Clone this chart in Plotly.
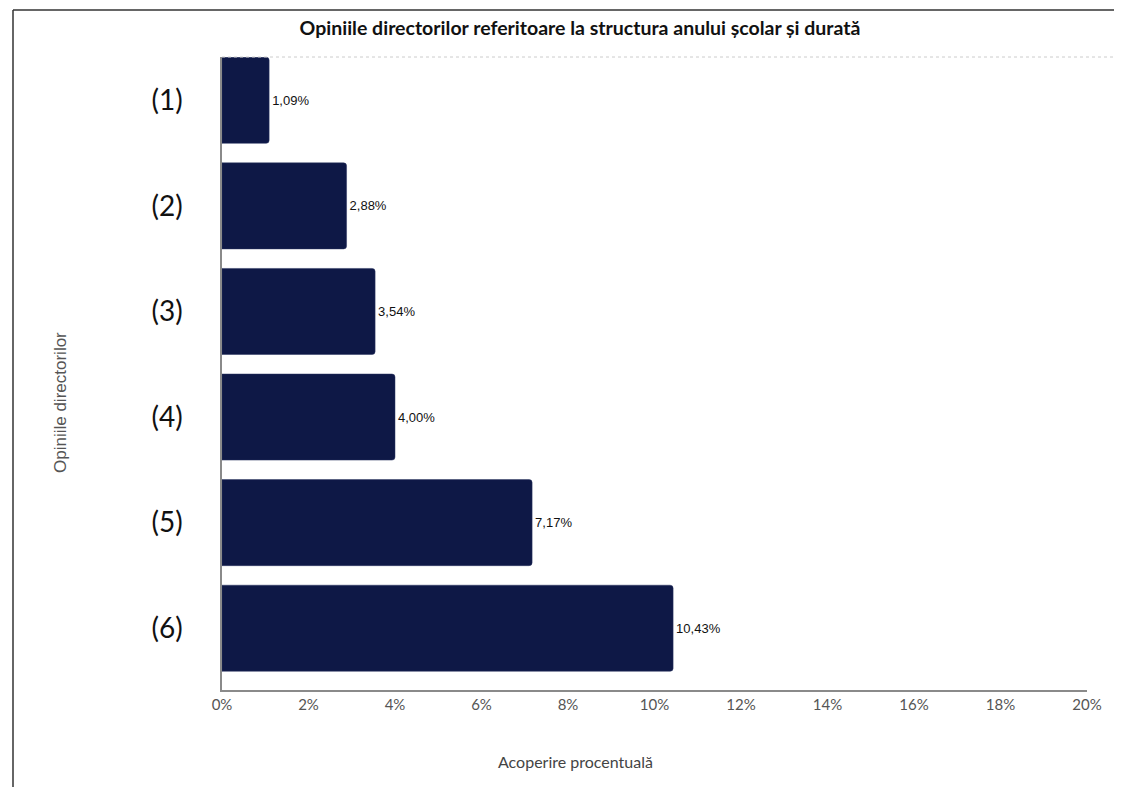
import plotly.graph_objects as go

categories = ["(1)", "(2)", "(3)", "(4)", "(5)", "(6)"]
values = [1.09, 2.88, 3.54, 4.00, 7.17, 10.43]
labels = ["1,09%", "2,88%", "3,54%", "4,00%", "7,17%", "10,43%"]
tick_vals = [0, 2, 4, 6, 8, 10, 12, 14, 16, 18, 20]
tick_text = [f"{v}%" for v in tick_vals]

OFF = 8  # page body margin
W, H = 1122 - OFF, 787 - OFF
L, R, T, B = 222 - OFF, 35, 57 - OFF, 97
pw, ph = W - L - R, H - T - B

def px(x):
    # x in reference page pixels -> paper fraction
    return (x - OFF - L) / pw

def py(y):
    return (H - B - (y - OFF)) / ph

fig = go.Figure(go.Bar(
    x=values, y=categories, orientation="h",
    marker=dict(color="#0E1846", line=dict(color="#2a3560", width=0.5), cornerradius=3),
    width=0.815,
    text=labels, textposition="outside", cliponaxis=False,
    textfont=dict(family="Liberation Sans, Arial", size=13, color="#111"),
    hoverinfo="skip",
))

fig.update_layout(
    width=W, height=H,
    margin=dict(l=L, r=R, t=T, b=B, pad=0),
    paper_bgcolor="white", plot_bgcolor="white",
    showlegend=False,
    title=dict(text="<b>Opiniile directorilor referitoare la structura anului școlar și durată</b>",
               xref="paper", yref="container", x=px(580), xanchor="center",
               y=1 - (28 - OFF) / H, yanchor="middle",
               font=dict(family="Lato", size=19.5, color="#111")),
    xaxis=dict(range=[0, 20], tickvals=tick_vals, ticktext=tick_text,
               showgrid=False, zeroline=False,
               showline=True, linecolor="#8a8a8a", linewidth=2,
               ticks="", tickfont=dict(family="Lato", size=15, color="#555")),
    yaxis=dict(type="category", range=[5.585, -0.41], showgrid=False, zeroline=False,
               showline=True, linecolor="#8a8a8a", linewidth=1.5,
               ticks="", ticklabelstandoff=32,
               tickfont=dict(family="Lato", size=28, color="#111")),
    shapes=[
        dict(type="line", xref="paper", yref="paper", x0=0, x1=px(1122), y0=1, y1=1,
             line=dict(color="#cccccc", width=1, dash="dot")),
        dict(type="line", xref="paper", yref="paper", x0=px(13), x1=px(1122), y0=py(10), y1=py(10),
             line=dict(color="#333333", width=1.5)),
        dict(type="line", xref="paper", yref="paper", x0=px(13), x1=px(13), y0=py(10), y1=py(787),
             line=dict(color="#333333", width=1.5)),
    ],
    annotations=[
        dict(text="Opiniile directorilor", xref="paper", yref="paper",
             x=px(60), y=py(403), xanchor="center", yanchor="middle", textangle=-90,
             showarrow=False, font=dict(family="Liberation Sans, Arial", size=17, color="#555")),
        dict(text="Acoperire procentuală", xref="paper", yref="paper",
             x=px(575), y=py(761), xanchor="center", yanchor="middle",
             showarrow=False, font=dict(family="Lato", size=16, color="#444")),
    ],
)

fig.write_html("out.html")
